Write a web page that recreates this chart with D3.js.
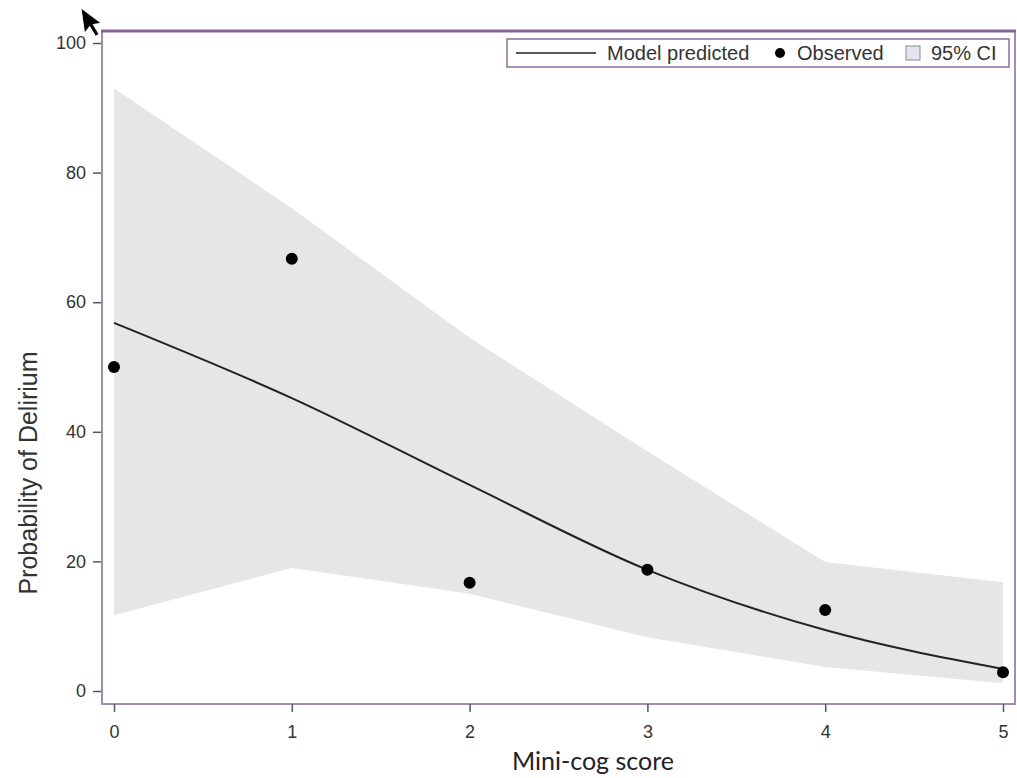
<!DOCTYPE html>
<html>
<head>
<meta charset="utf-8">
<script src="https://cdn.jsdelivr.net/npm/d3@7"></script>
<style>
  body { margin: 0; background: #fff; }
  text { font-family: "Liberation Sans", Arial, sans-serif; fill: #333; }
</style>
</head>
<body>
<div id="chart"></div>
<script>
// Mini-cog score vs probability of delirium
const scores = [0, 1, 2, 3, 4, 5];
const predicted = [56.8, 45.2, 31.8, 18.7, 9.4, 3.4];
const observed = [50.0, 66.7, 16.7, 18.7, 12.5, 2.9];
const ciUpper = [93.0, 74.5, 54.5, 37.0, 19.9, 16.8];
const ciLower = [11.7, 19.0, 15.0, 8.3, 3.7, 1.2];
const yTicks = [0, 20, 40, 60, 80, 100];

const width = 1017, height = 778;
const frame = { left: 102, top: 31, right: 1015, bottom: 704 };

const svg = d3.select("#chart").append("svg")
    .attr("width", width)
    .attr("height", height);

const x = d3.scaleLinear().domain([0, 5]).range([114, 1003]);
const y = d3.scaleLinear().domain([0, 100]).range([691, 43]);

const rows = scores.map((s, i) => ({
    s: s, pred: predicted[i], obs: observed[i], lo: ciLower[i], hi: ciUpper[i]
}));

// confidence band
svg.append("path")
    .datum(rows)
    .attr("fill", "#e6e6e6")
    .attr("d", d3.area()
        .x(d => x(d.s))
        .y0(d => y(d.lo))
        .y1(d => y(d.hi)));

// model line
svg.append("path")
    .datum(rows)
    .attr("fill", "none")
    .attr("stroke", "#222")
    .attr("stroke-width", 2)
    .attr("d", d3.line()
        .curve(d3.curveMonotoneX)
        .x(d => x(d.s))
        .y(d => y(d.pred)));

// observed points
svg.append("g").selectAll("circle")
    .data(rows)
    .enter()
    .append("circle")
    .attr("cx", d => x(d.s))
    .attr("cy", d => y(d.obs))
    .attr("r", 6)
    .attr("fill", "#000");

// frame
svg.append("rect")
    .attr("x", frame.left)
    .attr("y", frame.top)
    .attr("width", frame.right - frame.left)
    .attr("height", frame.bottom - frame.top)
    .attr("fill", "none")
    .attr("stroke", "#a48bb2")
    .attr("stroke-width", 2);
svg.append("line")
    .attr("x1", frame.left - 1).attr("x2", frame.right + 1)
    .attr("y1", frame.top).attr("y2", frame.top)
    .attr("stroke", "#866696")
    .attr("stroke-width", 3);

// axes
const yAxis = svg.append("g")
    .attr("transform", `translate(${frame.left - 1},0)`)
    .call(d3.axisLeft(y).tickValues(yTicks).tickSize(8).tickPadding(7));
const xAxis = svg.append("g")
    .attr("transform", `translate(0,${frame.bottom})`)
    .call(d3.axisBottom(x).tickValues(scores).tickFormat(d3.format("d")).tickSize(8).tickPadding(13));
[xAxis, yAxis].forEach(ax => {
    ax.select(".domain").remove();
    ax.selectAll(".tick line").attr("stroke", "#555").attr("stroke-width", 1.5);
    ax.selectAll(".tick text")
        .style("font-family", '"Liberation Sans", Arial, sans-serif')
        .style("font-size", "18px")
        .attr("fill", "#333");
});

// axis titles
svg.append("text")
    .attr("transform", "translate(37,473) rotate(-90)")
    .attr("text-anchor", "middle")
    .style("font-size", "25px")
    .text("Probability of Delirium");
svg.append("text")
    .attr("x", 593)
    .attr("y", 770)
    .attr("text-anchor", "middle")
    .style("font-family", "Lato, 'Open Sans', sans-serif")
    .style("font-size", "25px")
    .style("fill", "#222")
    .text("Mini-cog score");

// legend
const legend = svg.append("g");
legend.append("rect")
    .attr("x", 507).attr("y", 39)
    .attr("width", 502).attr("height", 28)
    .attr("fill", "#fff")
    .attr("stroke", "#8d6e9c")
    .attr("stroke-width", 1.5);
legend.append("line")
    .attr("x1", 516).attr("x2", 596)
    .attr("y1", 53).attr("y2", 53)
    .attr("stroke", "#222").attr("stroke-width", 1.5);
legend.append("circle")
    .attr("cx", 780).attr("cy", 53).attr("r", 5)
    .attr("fill", "#000");
legend.append("rect")
    .attr("x", 906).attr("y", 46)
    .attr("width", 14).attr("height", 14)
    .attr("fill", "#e4e4f0")
    .attr("stroke", "#8a8a9a");
const legendText = [["Model predicted", 607], ["Observed", 797], ["95% CI", 931]];
legend.selectAll("text.lbl")
    .data(legendText)
    .enter()
    .append("text")
    .attr("class", "lbl")
    .attr("x", d => d[1])
    .attr("y", 60)
    .style("font-size", "20px")
    .text(d => d[0]);

// mouse pointer seen in the screenshot
svg.append("path")
    .attr("transform", "translate(81,8) rotate(-8) scale(1.5)")
    .attr("d", "M0,0 L0,17 L4,13 L7,20 L9.5,19 L6.5,12 L12,12 Z")
    .attr("fill", "#000")
    .attr("stroke", "#fff")
    .attr("stroke-width", 0.6);
</script>
</body>
</html>
